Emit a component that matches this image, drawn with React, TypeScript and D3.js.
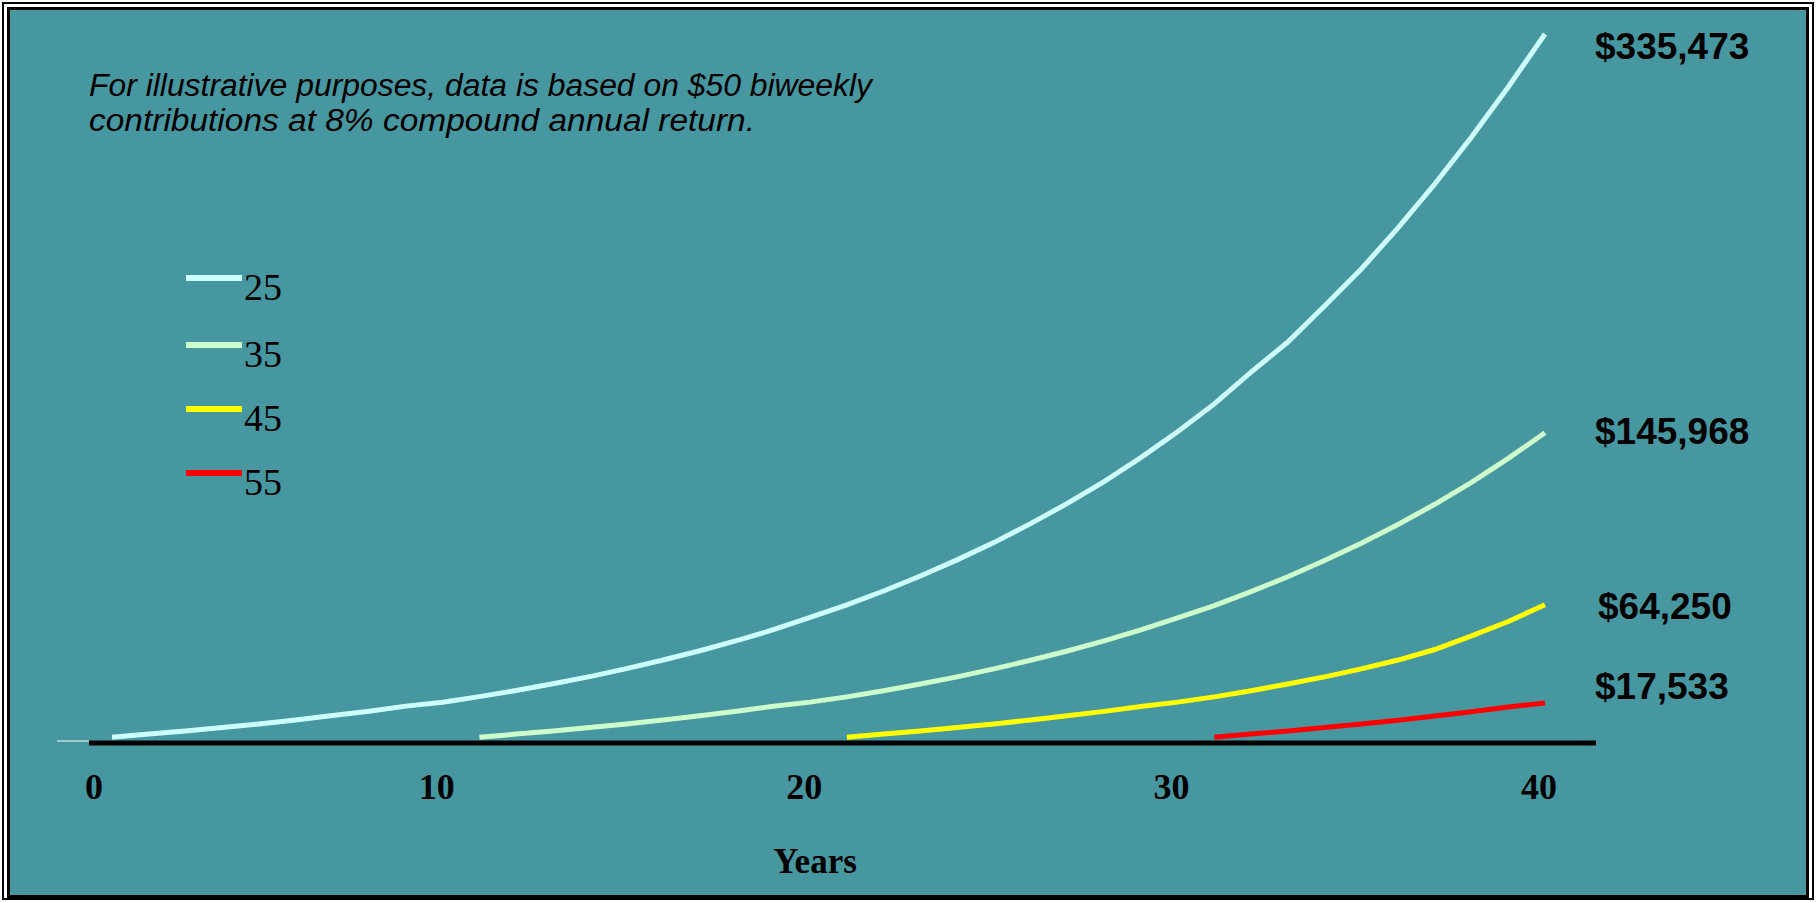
import React from "react";
import * as d3 from "d3";

// Account balance by year for savers starting at each age
const years25 = d3.range(1, 41);
const values25 = [
  1350, 2800, 4300, 5900, 7650, 9500, 11600, 13700, 16100, 17900,
  20600, 23500, 26700, 30100, 33900, 38000, 42400, 47200, 52400, 58300,
  64200, 70800, 77900, 85600, 93800, 102800, 112400, 122800, 134200, 146500,
  159700, 174800, 189100, 206200, 223800, 243300, 264200, 286500, 310300, 335473,
];
const years35 = d3.range(11, 41);
const values35 = [
  1300, 2800, 4300, 5900, 7600, 9500, 11500, 13700, 16000, 18000,
  20500, 23400, 26600, 30000, 33800, 37900, 42300, 47100, 52300, 58000,
  63900, 70500, 77600, 85300, 93500, 102400, 112000, 122400, 133800, 145968,
];
const years45 = d3.range(21, 41);
const values45 = [
  1300, 2800, 4300, 5900, 7600, 9500, 11500, 13600, 15900, 18000,
  20500, 23400, 26600, 30000, 33800, 38000, 43000, 49500, 56300, 64250,
];
const years55 = d3.range(31, 41);
const values55 = [1300, 2800, 4300, 5900, 7600, 9400, 11400, 13400, 15700, 17533];

const seriesNames = ["25", "35", "45", "55"];
const seriesColors = ["#ccffff", "#ccffcc", "#ffff00", "#ff0000"];
const endLabels = ["$335,473", "$145,968", "$64,250", "$17,533"];
const xTicks = [0, 10, 20, 30, 40];
const noteLines = [
  "For illustrative purposes, data is based on $50 biweekly",
  "contributions at 8% compound annual return.",
];

const W = 1816;
const H = 902;
const BG = "#4797a0";

export default function App() {
  const x = d3.scaleLinear().domain([1, 40]).range([112, 1545]);
  const y = d3.scaleLinear().domain([0, 335473]).range([740, 34]);
  const axisX0 = 89;
  const axisX1 = 1596;
  const axisY = 743;

  const series = [
    { years: years25, values: values25 },
    { years: years35, values: values35 },
    { years: years45, values: values45 },
    { years: years55, values: values55 },
  ];
  const line = d3
    .line<[number, number]>()
    .x((d) => x(d[0]))
    .y((d) => y(d[1]));

  const endY = [59, 444, 619, 699];
  const endX = [1595, 1595, 1598, 1595];
  const legendY = [278, 345, 409, 473];

  return (
    <svg
      width={W}
      height={H}
      style={{ position: "absolute", left: 0, top: 0, background: "#fff" }}
    >
      {/* framed panel */}
      <rect x={3} y={3} width={W - 6} height={H - 6} fill="none" stroke="#000" strokeWidth={2} />
      <rect x={5.5} y={5.5} width={W - 11} height={H - 11} fill="#fff" stroke="#fff" strokeWidth={1} />
      <rect x={8.5} y={8.5} width={W - 17} height={H - 14} fill={BG} stroke="#000" strokeWidth={3} />

      {/* note */}
      <g fontFamily="'Liberation Sans', Arial, sans-serif" fontStyle="italic" fontSize={31} fill="#000">
        <text x={89} y={96} textLength={783} lengthAdjust="spacingAndGlyphs">
          {noteLines[0]}
        </text>
        <text x={89} y={131} textLength={666} lengthAdjust="spacingAndGlyphs">
          {noteLines[1]}
        </text>
      </g>

      {/* axis */}
      <line x1={57} x2={axisX0} y1={741} y2={741} stroke="#fff" strokeWidth={1} />
      <line x1={axisX0} x2={axisX1} y1={axisY} y2={axisY} stroke="#000" strokeWidth={5} />
      <g fontFamily="'Liberation Serif', 'Times New Roman', serif" fontWeight="bold" fontSize={36} fill="#000">
        {xTicks.map((t) => (
          <text key={t} x={Math.max(x(t) - 6, axisX0 + 5)} y={799} textAnchor="middle">
            {t}
          </text>
        ))}
        <text x={815} y={873} textAnchor="middle" fontSize={35}>
          Years
        </text>
      </g>

      {/* series */}
      {series.map((s, i) => (
        <path
          key={i}
          d={line(s.years.map((yr, j) => [yr, s.values[j]] as [number, number])) || ""}
          fill="none"
          stroke={seriesColors[i]}
          strokeWidth={5}
        />
      ))}

      {/* end values */}
      <g fontFamily="'Liberation Sans', Arial, sans-serif" fontWeight="bold" fontSize={37} fill="#000">
        {endLabels.map((l, i) => (
          <text key={l} x={endX[i]} y={endY[i]}>
            {l}
          </text>
        ))}
      </g>

      {/* legend */}
      <g fontFamily="'Liberation Serif', 'Times New Roman', serif" fontSize={38} fill="#000">
        {seriesNames.map((n, i) => (
          <g key={n}>
            <line x1={186} x2={242} y1={legendY[i]} y2={legendY[i]} stroke={seriesColors[i]} strokeWidth={6} />
            <text x={244} y={legendY[i] + 22}>
              {n}
            </text>
          </g>
        ))}
      </g>
    </svg>
  );
}
